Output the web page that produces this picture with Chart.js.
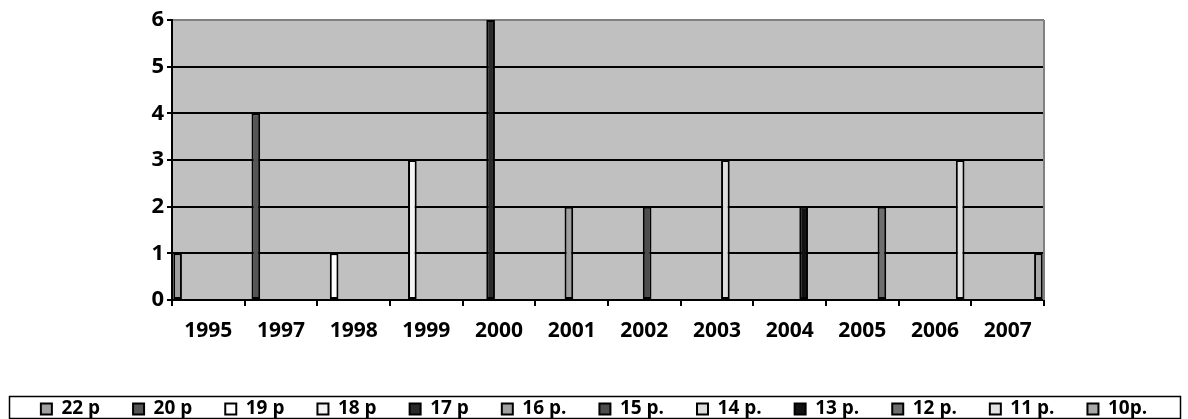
<!DOCTYPE html>
<html lang="en">
<head>
<meta charset="UTF-8">
<title>Bars per year</title>
<script src="https://cdn.jsdelivr.net/npm/chart.js"></script>
<style>
  html, body { margin: 0; padding: 0; background: #fff; }
  #wrap { width: 1188px; height: 419px; }
</style>
</head>
<body>
<div id="wrap"><canvas id="chart" width="1188" height="419"></canvas></div>
<script>
// data
const years = ['1995', '1997', '1998', '1999', '2000', '2001', '2002', '2003', '2004', '2005', '2006', '2007'];
const seriesNames = ['22 p', '20 p', '19 p', '18 p', '17 p', '16 p.', '15 p.', '14 p.', '13 p.', '12 p.', '11 p.', '10p.'];
// each year only has a value for one series (the one in the same position)
const counts = [1, 4, 1, 3, 6, 2, 2, 3, 2, 2, 3, 1];
const yTicks = [0, 1, 2, 3, 4, 5, 6];

const fills = ['#a0a0a0', '#555555', '#ffffff', '#f4f4f4', '#2a2a2a', '#a0a0a0',
               '#4d4d4d', '#dcdcdc', '#111111', '#6e6e6e', '#e2e2e2', '#a8a8a8'];

const FONT = '"Open Sans", sans-serif';

const datasets = seriesNames.map((name, i) => ({
    label: name,
    data: years.map((_, j) => (j === i ? counts[i] : null)),
    backgroundColor: fills[i],
    borderColor: '#000',
    borderWidth: 2,
    borderSkipped: false,
    categoryPercentage: 12 / 13,
    barPercentage: 1.55
}));

// grey plot background + grey right edge, box around the legend
const frame = {
    id: 'frame',
    beforeDraw(chart) {
        const { ctx, chartArea: a } = chart;
        ctx.save();
        ctx.fillStyle = '#c0c0c0';
        ctx.fillRect(a.left, a.top, a.right - a.left, a.bottom - a.top);
        ctx.restore();
    },
    afterDraw(chart) {
        const { ctx, chartArea: a } = chart;
        ctx.save();
        ctx.strokeStyle = '#808080';
        ctx.lineWidth = 2;
        ctx.beginPath();
        ctx.moveTo(a.right, a.top);
        ctx.lineTo(a.right, a.bottom);
        ctx.stroke();
        ctx.strokeStyle = '#000';
        ctx.lineWidth = 1.5;
        ctx.strokeRect(9.5, 396.5, 1171, 22);
        ctx.restore();
    }
};

new Chart(document.getElementById('chart'), {
    type: 'bar',
    data: { labels: years, datasets },
    plugins: [frame],
    options: {
        responsive: false,
        animation: false,
        layout: { padding: { top: 20, left: 0, right: 0, bottom: -9.5 } },
        plugins: {
            tooltip: { enabled: false },
            legend: {
                position: 'bottom',
                labels: {
                    color: '#000',
                    boxWidth: 11,
                    boxHeight: 11,
                    padding: 33,
                    font: { family: FONT, size: 19, weight: 'bold' }
                }
            }
        },
        scales: {
            x: {
                grid: {
                    drawOnChartArea: false,
                    drawTicks: true,
                    tickLength: 6,
                    color: '#000',
                    lineWidth: 2,
                    offset: true
                },
                border: { display: true, color: '#000', width: 2 },
                ticks: {
                    color: '#000',
                    padding: 12,
                    maxRotation: 0,
                    autoSkip: false,
                    font: { family: FONT, size: 21, weight: 'bold' }
                },
                afterFit(s) {
                    s.height = 128.5 - s.chart.legend.height;
                }
            },
            y: {
                min: 0,
                max: 6,
                afterBuildTicks(s) {
                    s.ticks = yTicks.map(v => ({ value: v }));
                },
                grid: {
                    color: c => (c.tick && c.tick.value === 6 ? '#808080' : '#000'),
                    lineWidth: 2,
                    tickLength: 5,
                    tickColor: '#000'
                },
                border: { display: true, color: '#000', width: 2 },
                ticks: {
                    color: '#000',
                    padding: 3,
                    font: { family: FONT, size: 22, weight: 'bold' }
                },
                afterFit(s) {
                    s.width = 172;
                }
            },
            yRight: {
                position: 'right',
                display: true,
                grid: { display: false },
                border: { display: false },
                ticks: { display: false },
                afterFit(s) {
                    s.width = 144;
                }
            }
        }
    }
});
</script>
</body>
</html>
